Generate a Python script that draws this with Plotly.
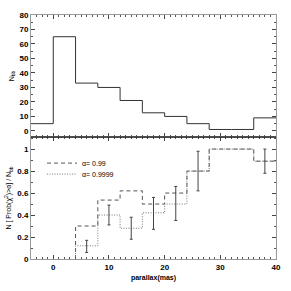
import plotly.graph_objects as go

# ---- data ----
edges_top = [-4, 0, 4, 8, 12, 16, 20, 24, 28, 32, 36, 40]
n_bb = [5, 65, 33, 30, 21, 12.5, 10, 5, 1, 1, 9]

edges_bot = [4, 8, 12, 16, 20, 24, 28, 32, 36, 40]
frac_099 = [0.30, 0.536, 0.62, 0.50, 0.60, 0.80, 1.0, 1.0, 0.89]
frac_09999 = [0.12, 0.40, 0.28, 0.42, 0.50, 0.80, 1.0, 1.0, 0.89]

err_x = [6, 10, 14, 18, 22, 26, 38]
err_y = [0.115, 0.40, 0.28, 0.415, 0.505, 0.80, 0.89]
err_v = [0.055, 0.09, 0.10, 0.145, 0.155, 0.18, 0.11]

labels = ["α= 0.99", "α= 0.9999"]

FONT = "Liberation Sans"

fig = go.Figure()

# top histogram
fig.add_trace(go.Scatter(
    x=edges_top, y=n_bb + [n_bb[-1]], mode="lines", line_shape="hv",
    line=dict(color="#333", width=1), showlegend=False, xaxis="x", yaxis="y"))

# bottom steps
fig.add_trace(go.Scatter(
    x=[edges_bot[0]] + edges_bot, y=[0] + frac_099 + [frac_099[-1]],
    mode="lines", line_shape="hv", name=labels[0], legend="legend",
    line=dict(color="#555", width=1, dash="4px,3px"), xaxis="x2", yaxis="y2"))
fig.add_trace(go.Scatter(
    x=[edges_bot[0]] + edges_bot, y=[0] + frac_09999 + [frac_09999[-1]],
    mode="lines", line_shape="hv", name=labels[1], legend="legend2",
    line=dict(color="#777", width=1, dash="1px,1.5px"), xaxis="x2", yaxis="y2"))

# error bars
fig.add_trace(go.Scatter(
    x=err_x, y=err_y, mode="markers", marker=dict(size=0.1, color="#444"),
    error_y=dict(type="data", array=err_v, color="#444", thickness=1, width=1.5),
    showlegend=False, xaxis="x2", yaxis="y2"))

axis_common = dict(
    showgrid=False, zeroline=False, showline=True, linecolor="#999", linewidth=1,
    ticks="inside", ticklen=4, tickcolor="#444", mirror="ticks", automargin=False,
    tickfont=dict(family=FONT, size=8, color="black", weight="bold"),
)

leg_common = dict(xanchor="left", yanchor="middle", bgcolor="rgba(0,0,0,0)",
                  itemwidth=30, font=dict(family=FONT, size=7, color="black"),
                  borderwidth=0)

fig.update_layout(
    width=291, height=291,
    margin=dict(l=31, r=15, t=15, b=32, autoexpand=False),
    paper_bgcolor="white", plot_bgcolor="white",
    font=dict(family=FONT, size=8, color="black"),
    xaxis=dict(domain=[0, 1], anchor="y", range=[-4, 40], dtick=10,
               showticklabels=False,
               minor=dict(ticks="inside", dtick=1, ticklen=2, tickcolor="#555"),
               **axis_common),
    yaxis=dict(domain=[0.5, 1], anchor="x", range=[-4.2, 80], dtick=10,
               minor=dict(ticks="inside", dtick=5, ticklen=2, tickcolor="#555"),
               title=dict(text="N<sub>bb</sub>", standoff=4,
                          font=dict(family=FONT, size=7)),
               **axis_common),
    xaxis2=dict(domain=[0, 1], anchor="y2", range=[-4, 40], dtick=10,
                minor=dict(ticks="inside", dtick=1, ticklen=2, tickcolor="#555"),
                title=dict(text="parallax(mas)", standoff=4,
                           font=dict(family=FONT, size=7, weight="bold")),
                **axis_common),
    yaxis2=dict(domain=[0, 0.5], anchor="x2", range=[0, 1.11], dtick=0.2,
                minor=dict(ticks="inside", dtick=0.1, ticklen=2, tickcolor="#555"),
                title=dict(text="N [ Prob(χ<sup>2</sup>)>α] / N<sub>bb</sub>", standoff=4,
                           font=dict(family=FONT, size=7)),
                **axis_common),
    legend=dict(x=0.045, y=0.393, **leg_common),
    legend2=dict(x=0.045, y=0.348, **leg_common),
    shapes=[dict(type="line", xref="paper", yref="paper", x0=0, x1=1, y0=0.5, y1=0.5,
                 line=dict(color="black", width=1.2))],
)

fig.write_html("out.html", config={"displayModeBar": False},
               post_script="document.body.style.margin='0';")
